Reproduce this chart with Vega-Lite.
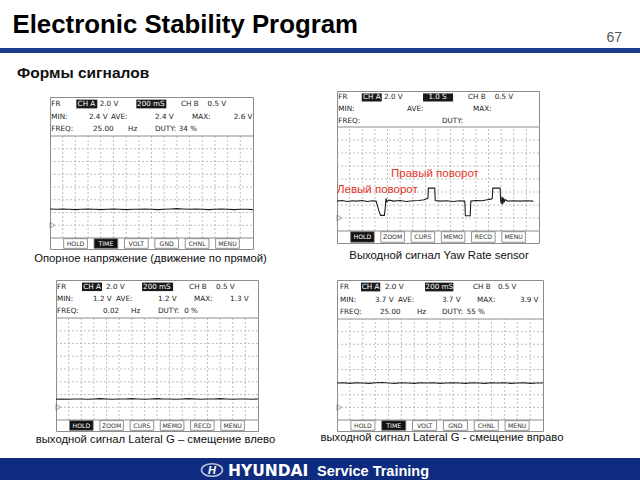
{
  "$schema": "https://vega.github.io/schema/vega-lite/v6.json",
  "padding": 0,
  "background": "white",
  "spacing": 0,
  "config": {"view": {"stroke": null}, "font": "Liberation Sans"},
  "vconcat": [
    {
      "width": 640, "height": 90,
      "data": {"values": [{"title": "Electronic Stability Program", "page": "67", "section": "Формы сигналов"}]},
      "layer": [
        {"mark": {"type": "rect", "color": "#1f3b8c"},
         "encoding": {
           "x": {"datum": 0, "type": "quantitative", "scale": {"domain": [0, 640], "nice": false, "zero": false}, "axis": null},
           "x2": {"datum": 640},
           "y": {"datum": 48, "type": "quantitative", "scale": {"domain": [0, 90], "reverse": true, "nice": false, "zero": false}, "axis": null},
           "y2": {"datum": 53}}},
        {"mark": {"type": "text", "align": "left", "baseline": "alphabetic", "font": "Liberation Sans", "fontSize": 25.8, "fontWeight": "bold", "color": "#000"},
         "encoding": {"x": {"datum": 12.5, "type": "quantitative"}, "y": {"datum": 33, "type": "quantitative"}, "text": {"field": "title"}}},
        {"mark": {"type": "text", "align": "right", "baseline": "alphabetic", "font": "Liberation Sans", "fontSize": 14, "color": "#555"},
         "encoding": {"x": {"datum": 622, "type": "quantitative"}, "y": {"datum": 42, "type": "quantitative"}, "text": {"field": "page"}}},
        {"mark": {"type": "text", "align": "left", "baseline": "alphabetic", "font": "Liberation Sans", "fontSize": 15.5, "fontWeight": "bold", "color": "#111"},
         "encoding": {"x": {"datum": 17, "type": "quantitative"}, "y": {"datum": 78, "type": "quantitative"}, "text": {"field": "section"}}}
      ]
    },
    {
      "spacing": 0,
      "hconcat": [
        {"width": 47, "height": 1, "data": {"values": []}, "mark": "point", "encoding": {}},
        {
          "spacing": 0,
          "vconcat": [
            {"width": 203, "height": 5, "data": {"values": []}, "mark": "point", "encoding": {}},
            {
              "width": 203, "height": 152, "view": {"stroke": "#8c8c8c"},
              "resolve": {"scale": {"x": "independent", "y": "independent"}},
              "layer": [
                {"data": {"values": [{"line": 1, "c0": 4.92, "c1": 8.86}, {"line": 1, "c0": 16.16, "c1": 21.78}]},
                 "mark": {"type": "rect", "color": "#1a1a1a"},
                 "encoding": {
                   "x": {"field": "c0", "type": "quantitative", "scale": {"domain": [0, 38], "range": [0, 203], "nice": false, "zero": false}, "axis": null},
                   "x2": {"field": "c1"},
                   "y": {"field": "line", "type": "ordinal", "scale": {"type": "band", "domain": [1, 2, 3], "range": [0, 39], "paddingInner": 0.3, "paddingOuter": 0.21}, "axis": null}}},
                {"data": {"values": [
                  {"line": 1, "col": 0.25, "text": "FR", "inv": false},
                  {"line": 1, "col": 5.17, "text": "CH A", "inv": true},
                  {"line": 1, "col": 9.31, "text": "2.0 V", "inv": false},
                  {"line": 1, "col": 16.3, "text": "200 mS", "inv": true},
                  {"line": 1, "col": 24.53, "text": "CH B", "inv": false},
                  {"line": 1, "col": 29.5, "text": "0.5 V", "inv": false},
                  {"line": 2, "col": 0.25, "text": "MIN:", "inv": false},
                  {"line": 2, "col": 7.3, "text": "2.4 V", "inv": false},
                  {"line": 2, "col": 11.42, "text": "AVE:", "inv": false},
                  {"line": 2, "col": 19.66, "text": "2.4 V", "inv": false},
                  {"line": 2, "col": 26.59, "text": "MAX:", "inv": false},
                  {"line": 2, "col": 34.4, "text": "2.6 V", "inv": false},
                  {"line": 3, "col": 0.25, "text": "FREQ:", "inv": false},
                  {"line": 3, "col": 8.05, "text": "25.00", "inv": false},
                  {"line": 3, "col": 14.61, "text": "Hz", "inv": false},
                  {"line": 3, "col": 19.66, "text": "DUTY:", "inv": false},
                  {"line": 3, "col": 24.1, "text": "34 %", "inv": false}]},
                 "mark": {"type": "text", "align": "left", "baseline": "middle", "font": "DejaVu Sans", "fontSize": 7.2},
                 "encoding": {
                   "x": {"field": "col", "type": "quantitative", "scale": {"domain": [0, 38], "range": [0, 203], "nice": false, "zero": false}, "axis": null},
                   "y": {"field": "line", "type": "ordinal", "scale": {"type": "band", "domain": [1, 2, 3], "range": [0, 39], "paddingInner": 0.3, "paddingOuter": 0.21}, "axis": null},
                   "text": {"field": "text"},
                   "color": {"condition": {"test": "datum.inv", "value": "#ffffff"}, "value": "#1a1a1a"}}},
                {"data": {"values": [{"t": 0.2}, {"t": 0.4}, {"t": 0.6}, {"t": 0.8}, {"t": 1.0}, {"t": 1.2}, {"t": 1.4}, {"t": 1.6}, {"t": 1.8}, {"t": 2.0}, {"t": 2.2}, {"t": 2.4}, {"t": 2.6}, {"t": 2.8}, {"t": 3.0}]},
                 "mark": {"type": "rule", "color": "#b0b0b0", "strokeWidth": 0.8, "strokeDash": [2, 2]},
                 "encoding": {
                   "x": {"field": "t", "type": "quantitative", "scale": {"domain": [0, 3.2], "range": [0, 203], "nice": false, "zero": false}, "axis": null},
                   "y": {"datum": -2, "type": "quantitative", "scale": {"domain": [-2, 14], "range": [141, 39], "nice": false, "zero": false}, "axis": null},
                   "y2": {"datum": 14}}},
                {"data": {"values": [{"v": 0}, {"v": 2}, {"v": 4}, {"v": 6}, {"v": 8}, {"v": 10}, {"v": 12}]},
                 "mark": {"type": "rule", "color": "#b0b0b0", "strokeWidth": 0.8, "strokeDash": [2, 2]},
                 "encoding": {
                   "y": {"field": "v", "type": "quantitative", "scale": {"domain": [-2, 14], "range": [141, 39], "nice": false, "zero": false}, "axis": null},
                   "x": {"datum": 0, "type": "quantitative", "scale": {"domain": [0, 3.2], "range": [0, 203], "nice": false, "zero": false}, "axis": null},
                   "x2": {"datum": 3.2}}},
                {"data": {"values": [{"v": -2}, {"v": 14}]},
                 "mark": {"type": "rule", "color": "#8c8c8c", "strokeWidth": 1},
                 "encoding": {
                   "y": {"field": "v", "type": "quantitative", "scale": {"domain": [-2, 14], "range": [141, 39], "nice": false, "zero": false}, "axis": null},
                   "x": {"datum": 0, "type": "quantitative", "scale": {"domain": [0, 3.2], "range": [0, 203], "nice": false, "zero": false}, "axis": null},
                   "x2": {"datum": 3.2}}},
                {"data": {"values": [
                  {"t": 0.0, "v": 2.55}, {"t": 0.1, "v": 2.5}, {"t": 0.2, "v": 2.55}, {"t": 0.3, "v": 2.5}, {"t": 0.4, "v": 2.45},
                  {"t": 0.5, "v": 2.5}, {"t": 0.6, "v": 2.55}, {"t": 0.7, "v": 2.5}, {"t": 0.8, "v": 2.45}, {"t": 0.9, "v": 2.5},
                  {"t": 1.0, "v": 2.55}, {"t": 1.1, "v": 2.5}, {"t": 1.2, "v": 2.45}, {"t": 1.3, "v": 2.5}, {"t": 1.4, "v": 2.5},
                  {"t": 1.5, "v": 2.55}, {"t": 1.6, "v": 2.5}, {"t": 1.7, "v": 2.45}, {"t": 1.8, "v": 2.5}, {"t": 1.9, "v": 2.55},
                  {"t": 2.0, "v": 2.6}, {"t": 2.1, "v": 2.55}, {"t": 2.2, "v": 2.5}, {"t": 2.3, "v": 2.55}, {"t": 2.4, "v": 2.5},
                  {"t": 2.5, "v": 2.45}, {"t": 2.6, "v": 2.5}, {"t": 2.7, "v": 2.55}, {"t": 2.8, "v": 2.5}, {"t": 2.9, "v": 2.45},
                  {"t": 3.0, "v": 2.5}, {"t": 3.1, "v": 2.5}, {"t": 3.2, "v": 2.45}]},
                 "mark": {"type": "line", "color": "#1e1e1e", "strokeWidth": 1.1},
                 "encoding": {
                   "x": {"field": "t", "type": "quantitative", "scale": {"domain": [0, 3.2], "range": [0, 203], "nice": false, "zero": false}, "axis": null},
                   "y": {"field": "v", "type": "quantitative", "scale": {"domain": [-2, 14], "range": [141, 39], "nice": false, "zero": false}, "axis": null}}},
                {"data": {"values": [{"t": 0, "v": 0}]},
                 "mark": {"type": "point", "shape": "M0,-1L1.5,0L0,1Z", "size": 36, "filled": false, "color": "#777", "strokeWidth": 1},
                 "encoding": {
                   "x": {"field": "t", "type": "quantitative", "scale": {"domain": [0, 3.2], "range": [0, 203], "nice": false, "zero": false}, "axis": null},
                   "y": {"field": "v", "type": "quantitative", "scale": {"domain": [-2, 14], "range": [141, 39], "nice": false, "zero": false}, "axis": null}}},
                {"data": {"values": [{"b": "HOLD", "on": false}, {"b": "TIME", "on": true}, {"b": "VOLT", "on": false}, {"b": "GND", "on": false}, {"b": "CHNL", "on": false}, {"b": "MENU", "on": false}]},
                 "mark": {"type": "rect", "stroke": "#777", "strokeWidth": 0.8},
                 "encoding": {
                   "x": {"field": "b", "type": "nominal", "sort": null, "scale": {"type": "band", "range": [0, 203], "paddingInner": 0.22, "paddingOuter": 0.45}, "axis": null},
                   "y": {"datum": 0.06, "type": "quantitative", "scale": {"domain": [0, 1], "range": [152, 141], "nice": false, "zero": false}, "axis": null},
                   "y2": {"datum": 0.94},
                   "fill": {"condition": {"test": "datum.on", "value": "#111"}, "value": "#ffffff"}}},
                {"data": {"values": [{"b": "HOLD", "on": false}, {"b": "TIME", "on": true}, {"b": "VOLT", "on": false}, {"b": "GND", "on": false}, {"b": "CHNL", "on": false}, {"b": "MENU", "on": false}]},
                 "mark": {"type": "text", "font": "DejaVu Sans", "fontSize": 6.2, "baseline": "middle"},
                 "encoding": {
                   "x": {"field": "b", "type": "nominal", "sort": null, "scale": {"type": "band", "range": [0, 203], "paddingInner": 0.22, "paddingOuter": 0.45}, "axis": null},
                   "y": {"datum": 0.5, "type": "quantitative", "scale": {"domain": [0, 1], "range": [152, 141], "nice": false, "zero": false}, "axis": null},
                   "text": {"field": "b"},
                   "color": {"condition": {"test": "datum.on", "value": "#ffffff"}, "value": "#333"}}}
              ]
            }
          ]
        },
        {"width": 78, "height": 1, "data": {"values": []}, "mark": "point", "encoding": {}},
        {
          "width": 202, "height": 152, "view": {"stroke": "#8c8c8c"},
          "resolve": {"scale": {"x": "independent", "y": "independent"}},
          "layer": [
            {"data": {"values": [{"line": 1, "c0": 4.63, "c1": 8.37}, {"line": 1, "c0": 16.1, "c1": 21.72}]},
             "mark": {"type": "rect", "color": "#1a1a1a"},
             "encoding": {
               "x": {"field": "c0", "type": "quantitative", "scale": {"domain": [0, 37.8], "range": [0, 202], "nice": false, "zero": false}, "axis": null},
               "x2": {"field": "c1"},
               "y": {"field": "line", "type": "ordinal", "scale": {"type": "band", "domain": [1, 2, 3], "range": [0, 36], "paddingInner": 0.3, "paddingOuter": 0.21}, "axis": null}}},
            {"data": {"values": [
              {"line": 1, "col": 0.25, "text": "FR", "inv": false},
              {"line": 1, "col": 4.85, "text": "CH A", "inv": true},
              {"line": 1, "col": 8.8, "text": "2.0 V", "inv": false},
              {"line": 1, "col": 17.1, "text": "1.0 S", "inv": true},
              {"line": 1, "col": 24.53, "text": "CH B", "inv": false},
              {"line": 1, "col": 29.5, "text": "0.5 V", "inv": false},
              {"line": 2, "col": 0.25, "text": "MIN:", "inv": false},
              {"line": 2, "col": 13.11, "text": "AVE:", "inv": false},
              {"line": 2, "col": 25.47, "text": "MAX:", "inv": false},
              {"line": 3, "col": 0.25, "text": "FREQ:", "inv": false},
              {"line": 3, "col": 19.66, "text": "DUTY:", "inv": false}]},
             "mark": {"type": "text", "align": "left", "baseline": "middle", "font": "DejaVu Sans", "fontSize": 7.2},
             "encoding": {
               "x": {"field": "col", "type": "quantitative", "scale": {"domain": [0, 37.8], "range": [0, 202], "nice": false, "zero": false}, "axis": null},
               "y": {"field": "line", "type": "ordinal", "scale": {"type": "band", "domain": [1, 2, 3], "range": [0, 36], "paddingInner": 0.3, "paddingOuter": 0.21}, "axis": null},
               "text": {"field": "text"},
               "color": {"condition": {"test": "datum.inv", "value": "#ffffff"}, "value": "#1a1a1a"}}},
            {"data": {"values": [{"t": 1}, {"t": 2}, {"t": 3}, {"t": 4}, {"t": 5}, {"t": 6}, {"t": 7}, {"t": 8}, {"t": 9}, {"t": 10}, {"t": 11}, {"t": 12}, {"t": 13}, {"t": 14}, {"t": 15}]},
             "mark": {"type": "rule", "color": "#b0b0b0", "strokeWidth": 0.8, "strokeDash": [2, 2]},
             "encoding": {
               "x": {"field": "t", "type": "quantitative", "scale": {"domain": [0, 16], "range": [0, 202], "nice": false, "zero": false}, "axis": null},
               "y": {"datum": -2, "type": "quantitative", "scale": {"domain": [-2, 14], "range": [140, 36], "nice": false, "zero": false}, "axis": null},
               "y2": {"datum": 14}}},
            {"data": {"values": [{"v": 0}, {"v": 2}, {"v": 4}, {"v": 6}, {"v": 8}, {"v": 10}, {"v": 12}]},
             "mark": {"type": "rule", "color": "#b0b0b0", "strokeWidth": 0.8, "strokeDash": [2, 2]},
             "encoding": {
               "y": {"field": "v", "type": "quantitative", "scale": {"domain": [-2, 14], "range": [140, 36], "nice": false, "zero": false}, "axis": null},
               "x": {"datum": 0, "type": "quantitative", "scale": {"domain": [0, 16], "range": [0, 202], "nice": false, "zero": false}, "axis": null},
               "x2": {"datum": 16}}},
            {"data": {"values": [{"v": -2}, {"v": 14}]},
             "mark": {"type": "rule", "color": "#8c8c8c", "strokeWidth": 1},
             "encoding": {
               "y": {"field": "v", "type": "quantitative", "scale": {"domain": [-2, 14], "range": [140, 36], "nice": false, "zero": false}, "axis": null},
               "x": {"datum": 0, "type": "quantitative", "scale": {"domain": [0, 16], "range": [0, 202], "nice": false, "zero": false}, "axis": null},
               "x2": {"datum": 16}}},
            {"data": {"values": [
              {"t": 0.0, "v": 2.6}, {"t": 0.4, "v": 2.7}, {"t": 0.8, "v": 2.55}, {"t": 1.2, "v": 2.65}, {"t": 1.6, "v": 2.6},
              {"t": 2.0, "v": 2.7}, {"t": 2.4, "v": 2.55}, {"t": 2.8, "v": 2.65}, {"t": 3.1, "v": 2.6}, {"t": 3.2, "v": 1.9},
              {"t": 3.3, "v": 1.2}, {"t": 3.45, "v": 0.4}, {"t": 3.75, "v": 0.4}, {"t": 3.82, "v": 1.5}, {"t": 3.88, "v": 3.0},
              {"t": 3.95, "v": 2.5}, {"t": 4.1, "v": 2.75}, {"t": 4.5, "v": 2.6}, {"t": 5.0, "v": 2.7}, {"t": 5.5, "v": 2.55},
              {"t": 6.0, "v": 2.65}, {"t": 6.5, "v": 2.7}, {"t": 6.9, "v": 2.8}, {"t": 7.1, "v": 2.95}, {"t": 7.2, "v": 3.0},
              {"t": 7.24, "v": 4.6}, {"t": 7.74, "v": 4.6}, {"t": 7.78, "v": 2.7}, {"t": 8.2, "v": 2.6}, {"t": 8.7, "v": 2.65},
              {"t": 9.2, "v": 2.55}, {"t": 9.7, "v": 2.65}, {"t": 10.12, "v": 2.6}, {"t": 10.17, "v": 0.35}, {"t": 10.55, "v": 0.35},
              {"t": 10.6, "v": 2.6}, {"t": 11.0, "v": 2.7}, {"t": 11.5, "v": 2.65}, {"t": 11.9, "v": 2.8}, {"t": 12.2, "v": 2.9},
              {"t": 12.3, "v": 3.0}, {"t": 12.34, "v": 4.6}, {"t": 12.92, "v": 4.6}, {"t": 12.96, "v": 2.7}, {"t": 13.02, "v": 2.2},
              {"t": 13.07, "v": 3.3}, {"t": 13.12, "v": 2.1}, {"t": 13.18, "v": 3.1}, {"t": 13.24, "v": 2.4}, {"t": 13.32, "v": 2.85},
              {"t": 13.5, "v": 2.6}, {"t": 14.0, "v": 2.65}, {"t": 14.5, "v": 2.6}, {"t": 15.0, "v": 2.65}, {"t": 15.55, "v": 2.6}]},
             "mark": {"type": "line", "color": "#1e1e1e", "strokeWidth": 1.1},
             "encoding": {
               "x": {"field": "t", "type": "quantitative", "scale": {"domain": [0, 16], "range": [0, 202], "nice": false, "zero": false}, "axis": null},
               "y": {"field": "v", "type": "quantitative", "scale": {"domain": [-2, 14], "range": [140, 36], "nice": false, "zero": false}, "axis": null}}},
            {"data": {"values": [{"t": 0, "v": 0}]},
             "mark": {"type": "point", "shape": "M0,-1L1.5,0L0,1Z", "size": 36, "filled": false, "color": "#777", "strokeWidth": 1},
             "encoding": {
               "x": {"field": "t", "type": "quantitative", "scale": {"domain": [0, 16], "range": [0, 202], "nice": false, "zero": false}, "axis": null},
               "y": {"field": "v", "type": "quantitative", "scale": {"domain": [-2, 14], "range": [140, 36], "nice": false, "zero": false}, "axis": null}}},
            {"data": {"values": [{"t": 0.0, "v": 4.26, "label": "Левый поворот"}, {"t": 4.28, "v": 6.8, "label": "Правый поворот"}]},
             "mark": {"type": "text", "align": "left", "baseline": "middle", "font": "Liberation Sans", "fontSize": 11.5, "color": "#e3342a"},
             "encoding": {
               "x": {"field": "t", "type": "quantitative", "scale": {"domain": [0, 16], "range": [0, 202], "nice": false, "zero": false}, "axis": null},
               "y": {"field": "v", "type": "quantitative", "scale": {"domain": [-2, 14], "range": [140, 36], "nice": false, "zero": false}, "axis": null},
               "text": {"field": "label"}}},
            {"data": {"values": [{"b": "HOLD", "on": true}, {"b": "ZOOM", "on": false}, {"b": "CURS", "on": false}, {"b": "MEMO", "on": false}, {"b": "RECD", "on": false}, {"b": "MENU", "on": false}]},
             "mark": {"type": "rect", "stroke": "#777", "strokeWidth": 0.8},
             "encoding": {
               "x": {"field": "b", "type": "nominal", "sort": null, "scale": {"type": "band", "range": [0, 202], "paddingInner": 0.22, "paddingOuter": 0.45}, "axis": null},
               "y": {"datum": 0.06, "type": "quantitative", "scale": {"domain": [0, 1], "range": [152, 140], "nice": false, "zero": false}, "axis": null},
               "y2": {"datum": 0.94},
               "fill": {"condition": {"test": "datum.on", "value": "#111"}, "value": "#ffffff"}}},
            {"data": {"values": [{"b": "HOLD", "on": true}, {"b": "ZOOM", "on": false}, {"b": "CURS", "on": false}, {"b": "MEMO", "on": false}, {"b": "RECD", "on": false}, {"b": "MENU", "on": false}]},
             "mark": {"type": "text", "font": "DejaVu Sans", "fontSize": 6.2, "baseline": "middle"},
             "encoding": {
               "x": {"field": "b", "type": "nominal", "sort": null, "scale": {"type": "band", "range": [0, 202], "paddingInner": 0.22, "paddingOuter": 0.45}, "axis": null},
               "y": {"datum": 0.5, "type": "quantitative", "scale": {"domain": [0, 1], "range": [152, 140], "nice": false, "zero": false}, "axis": null},
               "text": {"field": "b"},
               "color": {"condition": {"test": "datum.on", "value": "#ffffff"}, "value": "#333"}}}
          ]
        }
      ]
    },
    {
      "width": 640, "height": 29,
      "data": {"values": [{"c1": "Опорное напряжение (движение по прямой)", "c2": "Выходной сигнал Yaw Rate sensor"}]},
      "layer": [
        {"mark": {"type": "text", "align": "center", "baseline": "top", "font": "Liberation Sans", "fontSize": 11.3, "color": "#111"},
         "encoding": {
           "x": {"datum": 150.5, "type": "quantitative", "scale": {"domain": [0, 640], "nice": false, "zero": false}, "axis": null},
           "y": {"datum": 2.6, "type": "quantitative", "scale": {"domain": [0, 29], "reverse": true, "nice": false, "zero": false}, "axis": null},
           "text": {"field": "c1"}}},
        {"mark": {"type": "text", "align": "center", "baseline": "top", "font": "Liberation Sans", "fontSize": 11.3, "color": "#111"},
         "encoding": {"x": {"datum": 439, "type": "quantitative"}, "y": {"datum": 0, "type": "quantitative"}, "text": {"field": "c2"}}}
      ]
    },
    {
      "spacing": 0,
      "hconcat": [
        {"width": 53, "height": 1, "data": {"values": []}, "mark": "point", "encoding": {}},
        {
          "width": 202, "height": 151, "view": {"stroke": "#8c8c8c"},
          "resolve": {"scale": {"x": "independent", "y": "independent"}},
          "layer": [
            {"data": {"values": [{"line": 1, "c0": 4.87, "c1": 8.61}, {"line": 1, "c0": 16.1, "c1": 21.91}]},
             "mark": {"type": "rect", "color": "#1a1a1a"},
             "encoding": {
               "x": {"field": "c0", "type": "quantitative", "scale": {"domain": [0, 37.8], "range": [0, 202], "nice": false, "zero": false}, "axis": null},
               "x2": {"field": "c1"},
               "y": {"field": "line", "type": "ordinal", "scale": {"type": "band", "domain": [1, 2, 3], "range": [0, 38], "paddingInner": 0.3, "paddingOuter": 0.21}, "axis": null}}},
            {"data": {"values": [
              {"line": 1, "col": 0.19, "text": "FR", "inv": false},
              {"line": 1, "col": 5.1, "text": "CH A", "inv": true},
              {"line": 1, "col": 9.36, "text": "2.0 V", "inv": false},
              {"line": 1, "col": 16.3, "text": "200 mS", "inv": true},
              {"line": 1, "col": 24.91, "text": "CH B", "inv": false},
              {"line": 1, "col": 29.96, "text": "0.5 V", "inv": false},
              {"line": 2, "col": 0.19, "text": "MIN:", "inv": false},
              {"line": 2, "col": 6.93, "text": "1.2 V", "inv": false},
              {"line": 2, "col": 11.24, "text": "AVE:", "inv": false},
              {"line": 2, "col": 19.1, "text": "1.2 V", "inv": false},
              {"line": 2, "col": 25.84, "text": "MAX:", "inv": false},
              {"line": 2, "col": 32.58, "text": "1.3 V", "inv": false},
              {"line": 3, "col": 0.19, "text": "FREQ:", "inv": false},
              {"line": 3, "col": 8.8, "text": "0.02", "inv": false},
              {"line": 3, "col": 14.04, "text": "Hz", "inv": false},
              {"line": 3, "col": 19.1, "text": "DUTY:", "inv": false},
              {"line": 3, "col": 24.0, "text": "0 %", "inv": false}]},
             "mark": {"type": "text", "align": "left", "baseline": "middle", "font": "DejaVu Sans", "fontSize": 7.2},
             "encoding": {
               "x": {"field": "col", "type": "quantitative", "scale": {"domain": [0, 37.8], "range": [0, 202], "nice": false, "zero": false}, "axis": null},
               "y": {"field": "line", "type": "ordinal", "scale": {"type": "band", "domain": [1, 2, 3], "range": [0, 38], "paddingInner": 0.3, "paddingOuter": 0.21}, "axis": null},
               "text": {"field": "text"},
               "color": {"condition": {"test": "datum.inv", "value": "#ffffff"}, "value": "#1a1a1a"}}},
            {"data": {"values": [{"t": 0.2}, {"t": 0.4}, {"t": 0.6}, {"t": 0.8}, {"t": 1.0}, {"t": 1.2}, {"t": 1.4}, {"t": 1.6}, {"t": 1.8}, {"t": 2.0}, {"t": 2.2}, {"t": 2.4}, {"t": 2.6}, {"t": 2.8}, {"t": 3.0}]},
             "mark": {"type": "rule", "color": "#b0b0b0", "strokeWidth": 0.8, "strokeDash": [2, 2]},
             "encoding": {
               "x": {"field": "t", "type": "quantitative", "scale": {"domain": [0, 3.2], "range": [0, 202], "nice": false, "zero": false}, "axis": null},
               "y": {"datum": -2, "type": "quantitative", "scale": {"domain": [-2, 14], "range": [140, 38], "nice": false, "zero": false}, "axis": null},
               "y2": {"datum": 14}}},
            {"data": {"values": [{"v": 0}, {"v": 2}, {"v": 4}, {"v": 6}, {"v": 8}, {"v": 10}, {"v": 12}]},
             "mark": {"type": "rule", "color": "#b0b0b0", "strokeWidth": 0.8, "strokeDash": [2, 2]},
             "encoding": {
               "y": {"field": "v", "type": "quantitative", "scale": {"domain": [-2, 14], "range": [140, 38], "nice": false, "zero": false}, "axis": null},
               "x": {"datum": 0, "type": "quantitative", "scale": {"domain": [0, 3.2], "range": [0, 202], "nice": false, "zero": false}, "axis": null},
               "x2": {"datum": 3.2}}},
            {"data": {"values": [{"v": -2}, {"v": 14}]},
             "mark": {"type": "rule", "color": "#8c8c8c", "strokeWidth": 1},
             "encoding": {
               "y": {"field": "v", "type": "quantitative", "scale": {"domain": [-2, 14], "range": [140, 38], "nice": false, "zero": false}, "axis": null},
               "x": {"datum": 0, "type": "quantitative", "scale": {"domain": [0, 3.2], "range": [0, 202], "nice": false, "zero": false}, "axis": null},
               "x2": {"datum": 3.2}}},
            {"data": {"values": [
              {"t": 0.0, "v": 1.25}, {"t": 0.1, "v": 1.3}, {"t": 0.2, "v": 1.25}, {"t": 0.3, "v": 1.3}, {"t": 0.4, "v": 1.3},
              {"t": 0.5, "v": 1.25}, {"t": 0.6, "v": 1.3}, {"t": 0.7, "v": 1.35}, {"t": 0.8, "v": 1.3}, {"t": 0.9, "v": 1.25},
              {"t": 1.0, "v": 1.3}, {"t": 1.1, "v": 1.3}, {"t": 1.2, "v": 1.35}, {"t": 1.3, "v": 1.3}, {"t": 1.4, "v": 1.25},
              {"t": 1.5, "v": 1.3}, {"t": 1.6, "v": 1.35}, {"t": 1.7, "v": 1.3}, {"t": 1.8, "v": 1.3}, {"t": 1.9, "v": 1.25},
              {"t": 2.0, "v": 1.3}, {"t": 2.1, "v": 1.35}, {"t": 2.2, "v": 1.3}, {"t": 2.3, "v": 1.25}, {"t": 2.4, "v": 1.3},
              {"t": 2.5, "v": 1.3}, {"t": 2.6, "v": 1.35}, {"t": 2.7, "v": 1.3}, {"t": 2.8, "v": 1.25}, {"t": 2.9, "v": 1.3},
              {"t": 3.0, "v": 1.3}, {"t": 3.1, "v": 1.25}, {"t": 3.2, "v": 1.3}]},
             "mark": {"type": "line", "color": "#1e1e1e", "strokeWidth": 1.1},
             "encoding": {
               "x": {"field": "t", "type": "quantitative", "scale": {"domain": [0, 3.2], "range": [0, 202], "nice": false, "zero": false}, "axis": null},
               "y": {"field": "v", "type": "quantitative", "scale": {"domain": [-2, 14], "range": [140, 38], "nice": false, "zero": false}, "axis": null}}},
            {"data": {"values": [{"t": 0, "v": 0}]},
             "mark": {"type": "point", "shape": "M0,-1L1.5,0L0,1Z", "size": 36, "filled": false, "color": "#777", "strokeWidth": 1},
             "encoding": {
               "x": {"field": "t", "type": "quantitative", "scale": {"domain": [0, 3.2], "range": [0, 202], "nice": false, "zero": false}, "axis": null},
               "y": {"field": "v", "type": "quantitative", "scale": {"domain": [-2, 14], "range": [140, 38], "nice": false, "zero": false}, "axis": null}}},
            {"data": {"values": [{"b": "HOLD", "on": true}, {"b": "ZOOM", "on": false}, {"b": "CURS", "on": false}, {"b": "MEMO", "on": false}, {"b": "RECD", "on": false}, {"b": "MENU", "on": false}]},
             "mark": {"type": "rect", "stroke": "#777", "strokeWidth": 0.8},
             "encoding": {
               "x": {"field": "b", "type": "nominal", "sort": null, "scale": {"type": "band", "range": [0, 202], "paddingInner": 0.22, "paddingOuter": 0.45}, "axis": null},
               "y": {"datum": 0.06, "type": "quantitative", "scale": {"domain": [0, 1], "range": [151, 140], "nice": false, "zero": false}, "axis": null},
               "y2": {"datum": 0.94},
               "fill": {"condition": {"test": "datum.on", "value": "#111"}, "value": "#ffffff"}}},
            {"data": {"values": [{"b": "HOLD", "on": true}, {"b": "ZOOM", "on": false}, {"b": "CURS", "on": false}, {"b": "MEMO", "on": false}, {"b": "RECD", "on": false}, {"b": "MENU", "on": false}]},
             "mark": {"type": "text", "font": "DejaVu Sans", "fontSize": 6.2, "baseline": "middle"},
             "encoding": {
               "x": {"field": "b", "type": "nominal", "sort": null, "scale": {"type": "band", "range": [0, 202], "paddingInner": 0.22, "paddingOuter": 0.45}, "axis": null},
               "y": {"datum": 0.5, "type": "quantitative", "scale": {"domain": [0, 1], "range": [151, 140], "nice": false, "zero": false}, "axis": null},
               "text": {"field": "b"},
               "color": {"condition": {"test": "datum.on", "value": "#ffffff"}, "value": "#333"}}}
          ]
        },
        {"width": 73, "height": 1, "data": {"values": []}, "mark": "point", "encoding": {}},
        {
          "width": 206, "height": 151, "view": {"stroke": "#8c8c8c"},
          "resolve": {"scale": {"x": "independent", "y": "independent"}},
          "layer": [
            {"data": {"values": [{"line": 1, "c0": 4.5, "c1": 8.1}, {"line": 1, "c0": 16.5, "c1": 21.8}]},
             "mark": {"type": "rect", "color": "#1a1a1a"},
             "encoding": {
               "x": {"field": "c0", "type": "quantitative", "scale": {"domain": [0, 38.6], "range": [0, 206], "nice": false, "zero": false}, "axis": null},
               "x2": {"field": "c1"},
               "y": {"field": "line", "type": "ordinal", "scale": {"type": "band", "domain": [1, 2, 3], "range": [0, 39], "paddingInner": 0.3, "paddingOuter": 0.21}, "axis": null}}},
            {"data": {"values": [
              {"line": 1, "col": 0.56, "text": "FR", "inv": false},
              {"line": 1, "col": 4.65, "text": "CH A", "inv": true},
              {"line": 1, "col": 8.99, "text": "2.0 V", "inv": false},
              {"line": 1, "col": 16.6, "text": "200 mS", "inv": true},
              {"line": 1, "col": 25.47, "text": "CH B", "inv": false},
              {"line": 1, "col": 30.15, "text": "0.5 V", "inv": false},
              {"line": 2, "col": 0.56, "text": "MIN:", "inv": false},
              {"line": 2, "col": 7.12, "text": "3.7 V", "inv": false},
              {"line": 2, "col": 11.42, "text": "AVE:", "inv": false},
              {"line": 2, "col": 19.66, "text": "3.7 V", "inv": false},
              {"line": 2, "col": 26.22, "text": "MAX:", "inv": false},
              {"line": 2, "col": 34.27, "text": "3.9 V", "inv": false},
              {"line": 3, "col": 0.56, "text": "FREQ:", "inv": false},
              {"line": 3, "col": 8.05, "text": "25.00", "inv": false},
              {"line": 3, "col": 14.98, "text": "Hz", "inv": false},
              {"line": 3, "col": 19.66, "text": "DUTY:", "inv": false},
              {"line": 3, "col": 24.3, "text": "55 %", "inv": false}]},
             "mark": {"type": "text", "align": "left", "baseline": "middle", "font": "DejaVu Sans", "fontSize": 7.2},
             "encoding": {
               "x": {"field": "col", "type": "quantitative", "scale": {"domain": [0, 38.6], "range": [0, 206], "nice": false, "zero": false}, "axis": null},
               "y": {"field": "line", "type": "ordinal", "scale": {"type": "band", "domain": [1, 2, 3], "range": [0, 39], "paddingInner": 0.3, "paddingOuter": 0.21}, "axis": null},
               "text": {"field": "text"},
               "color": {"condition": {"test": "datum.inv", "value": "#ffffff"}, "value": "#1a1a1a"}}},
            {"data": {"values": [{"t": 0.2}, {"t": 0.4}, {"t": 0.6}, {"t": 0.8}, {"t": 1.0}, {"t": 1.2}, {"t": 1.4}, {"t": 1.6}, {"t": 1.8}, {"t": 2.0}, {"t": 2.2}, {"t": 2.4}, {"t": 2.6}, {"t": 2.8}, {"t": 3.0}]},
             "mark": {"type": "rule", "color": "#b0b0b0", "strokeWidth": 0.8, "strokeDash": [2, 2]},
             "encoding": {
               "x": {"field": "t", "type": "quantitative", "scale": {"domain": [0, 3.2], "range": [0, 206], "nice": false, "zero": false}, "axis": null},
               "y": {"datum": -2, "type": "quantitative", "scale": {"domain": [-2, 14], "range": [140, 39], "nice": false, "zero": false}, "axis": null},
               "y2": {"datum": 14}}},
            {"data": {"values": [{"v": 0}, {"v": 2}, {"v": 4}, {"v": 6}, {"v": 8}, {"v": 10}, {"v": 12}]},
             "mark": {"type": "rule", "color": "#b0b0b0", "strokeWidth": 0.8, "strokeDash": [2, 2]},
             "encoding": {
               "y": {"field": "v", "type": "quantitative", "scale": {"domain": [-2, 14], "range": [140, 39], "nice": false, "zero": false}, "axis": null},
               "x": {"datum": 0, "type": "quantitative", "scale": {"domain": [0, 3.2], "range": [0, 206], "nice": false, "zero": false}, "axis": null},
               "x2": {"datum": 3.2}}},
            {"data": {"values": [{"v": -2}, {"v": 14}]},
             "mark": {"type": "rule", "color": "#8c8c8c", "strokeWidth": 1},
             "encoding": {
               "y": {"field": "v", "type": "quantitative", "scale": {"domain": [-2, 14], "range": [140, 39], "nice": false, "zero": false}, "axis": null},
               "x": {"datum": 0, "type": "quantitative", "scale": {"domain": [0, 3.2], "range": [0, 206], "nice": false, "zero": false}, "axis": null},
               "x2": {"datum": 3.2}}},
            {"data": {"values": [
              {"t": 0.0, "v": 3.85}, {"t": 0.1, "v": 3.9}, {"t": 0.2, "v": 3.8}, {"t": 0.3, "v": 3.9}, {"t": 0.4, "v": 3.85},
              {"t": 0.5, "v": 3.8}, {"t": 0.6, "v": 3.9}, {"t": 0.7, "v": 3.95}, {"t": 0.8, "v": 3.85}, {"t": 0.9, "v": 3.8},
              {"t": 1.0, "v": 3.9}, {"t": 1.1, "v": 3.85}, {"t": 1.2, "v": 3.8}, {"t": 1.3, "v": 3.9}, {"t": 1.4, "v": 3.85},
              {"t": 1.5, "v": 3.9}, {"t": 1.6, "v": 3.8}, {"t": 1.7, "v": 3.85}, {"t": 1.8, "v": 3.9}, {"t": 1.9, "v": 3.85},
              {"t": 2.0, "v": 3.8}, {"t": 2.1, "v": 3.9}, {"t": 2.2, "v": 3.85}, {"t": 2.3, "v": 3.8}, {"t": 2.4, "v": 3.9},
              {"t": 2.5, "v": 3.85}, {"t": 2.6, "v": 3.9}, {"t": 2.7, "v": 3.8}, {"t": 2.8, "v": 3.85}, {"t": 2.9, "v": 3.9},
              {"t": 3.0, "v": 3.8}, {"t": 3.1, "v": 3.85}, {"t": 3.2, "v": 3.85}]},
             "mark": {"type": "line", "color": "#1e1e1e", "strokeWidth": 1.1},
             "encoding": {
               "x": {"field": "t", "type": "quantitative", "scale": {"domain": [0, 3.2], "range": [0, 206], "nice": false, "zero": false}, "axis": null},
               "y": {"field": "v", "type": "quantitative", "scale": {"domain": [-2, 14], "range": [140, 39], "nice": false, "zero": false}, "axis": null}}},
            {"data": {"values": [{"t": 0, "v": 0}]},
             "mark": {"type": "point", "shape": "M0,-1L1.5,0L0,1Z", "size": 36, "filled": false, "color": "#777", "strokeWidth": 1},
             "encoding": {
               "x": {"field": "t", "type": "quantitative", "scale": {"domain": [0, 3.2], "range": [0, 206], "nice": false, "zero": false}, "axis": null},
               "y": {"field": "v", "type": "quantitative", "scale": {"domain": [-2, 14], "range": [140, 39], "nice": false, "zero": false}, "axis": null}}},
            {"data": {"values": [{"b": "HOLD", "on": false}, {"b": "TIME", "on": true}, {"b": "VOLT", "on": false}, {"b": "GND", "on": false}, {"b": "CHNL", "on": false}, {"b": "MENU", "on": false}]},
             "mark": {"type": "rect", "stroke": "#777", "strokeWidth": 0.8},
             "encoding": {
               "x": {"field": "b", "type": "nominal", "sort": null, "scale": {"type": "band", "range": [0, 206], "paddingInner": 0.22, "paddingOuter": 0.45}, "axis": null},
               "y": {"datum": 0.06, "type": "quantitative", "scale": {"domain": [0, 1], "range": [151, 140], "nice": false, "zero": false}, "axis": null},
               "y2": {"datum": 0.94},
               "fill": {"condition": {"test": "datum.on", "value": "#111"}, "value": "#ffffff"}}},
            {"data": {"values": [{"b": "HOLD", "on": false}, {"b": "TIME", "on": true}, {"b": "VOLT", "on": false}, {"b": "GND", "on": false}, {"b": "CHNL", "on": false}, {"b": "MENU", "on": false}]},
             "mark": {"type": "text", "font": "DejaVu Sans", "fontSize": 6.2, "baseline": "middle"},
             "encoding": {
               "x": {"field": "b", "type": "nominal", "sort": null, "scale": {"type": "band", "range": [0, 206], "paddingInner": 0.22, "paddingOuter": 0.45}, "axis": null},
               "y": {"datum": 0.5, "type": "quantitative", "scale": {"domain": [0, 1], "range": [151, 140], "nice": false, "zero": false}, "axis": null},
               "text": {"field": "b"},
               "color": {"condition": {"test": "datum.on", "value": "#ffffff"}, "value": "#333"}}}
          ]
        }
      ]
    },
    {
      "width": 640, "height": 26,
      "data": {"values": [{"c3": "выходной сигнал Lateral G – смещение влево", "c4": "выходной сигнал Lateral G - смещение вправо"}]},
      "layer": [
        {"mark": {"type": "text", "align": "center", "baseline": "top", "font": "Liberation Sans", "fontSize": 11.3, "color": "#111"},
         "encoding": {
           "x": {"datum": 155.5, "type": "quantitative", "scale": {"domain": [0, 640], "nice": false, "zero": false}, "axis": null},
           "y": {"datum": 1.6, "type": "quantitative", "scale": {"domain": [0, 26], "reverse": true, "nice": false, "zero": false}, "axis": null},
           "text": {"field": "c3"}}},
        {"mark": {"type": "text", "align": "center", "baseline": "top", "font": "Liberation Sans", "fontSize": 11.3, "color": "#111"},
         "encoding": {"x": {"datum": 442, "type": "quantitative"}, "y": {"datum": 0.2, "type": "quantitative"}, "text": {"field": "c4"}}}
      ]
    },
    {
      "width": 640, "height": 25,
      "view": {"fill": "#0e2b7f", "stroke": null},
      "data": {"values": [{"brand": "HYUNDAI", "tag": "Service Training", "logo": "H"}]},
      "layer": [
        {"mark": {"type": "point", "shape": "M-1,0A1,0.6,0,1,1,1,0A1,0.6,0,1,1,-1,0Z", "size": 441, "filled": false, "color": "#ffffff", "strokeWidth": 1.6},
         "encoding": {
           "x": {"datum": 212, "type": "quantitative", "scale": {"domain": [0, 640], "nice": false, "zero": false}, "axis": null},
           "y": {"datum": 12, "type": "quantitative", "scale": {"domain": [0, 25], "reverse": true, "nice": false, "zero": false}, "axis": null}}},
        {"mark": {"type": "text", "align": "center", "baseline": "middle", "font": "Liberation Sans", "fontSize": 11, "fontStyle": "italic", "fontWeight": "bold", "color": "#ffffff"},
         "encoding": {"x": {"datum": 212, "type": "quantitative"}, "y": {"datum": 12.5, "type": "quantitative"}, "text": {"field": "logo"}}},
        {"mark": {"type": "text", "align": "left", "baseline": "alphabetic", "font": "DejaVu Sans", "fontSize": 15.5, "fontWeight": "bold", "color": "#ffffff"},
         "encoding": {"x": {"datum": 228, "type": "quantitative"}, "y": {"datum": 18, "type": "quantitative"}, "text": {"field": "brand"}}},
        {"mark": {"type": "text", "align": "left", "baseline": "alphabetic", "font": "Liberation Sans", "fontSize": 14.5, "fontWeight": "bold", "color": "#ffffff"},
         "encoding": {"x": {"datum": 317, "type": "quantitative"}, "y": {"datum": 18, "type": "quantitative"}, "text": {"field": "tag"}}}
      ]
    }
  ]
}
